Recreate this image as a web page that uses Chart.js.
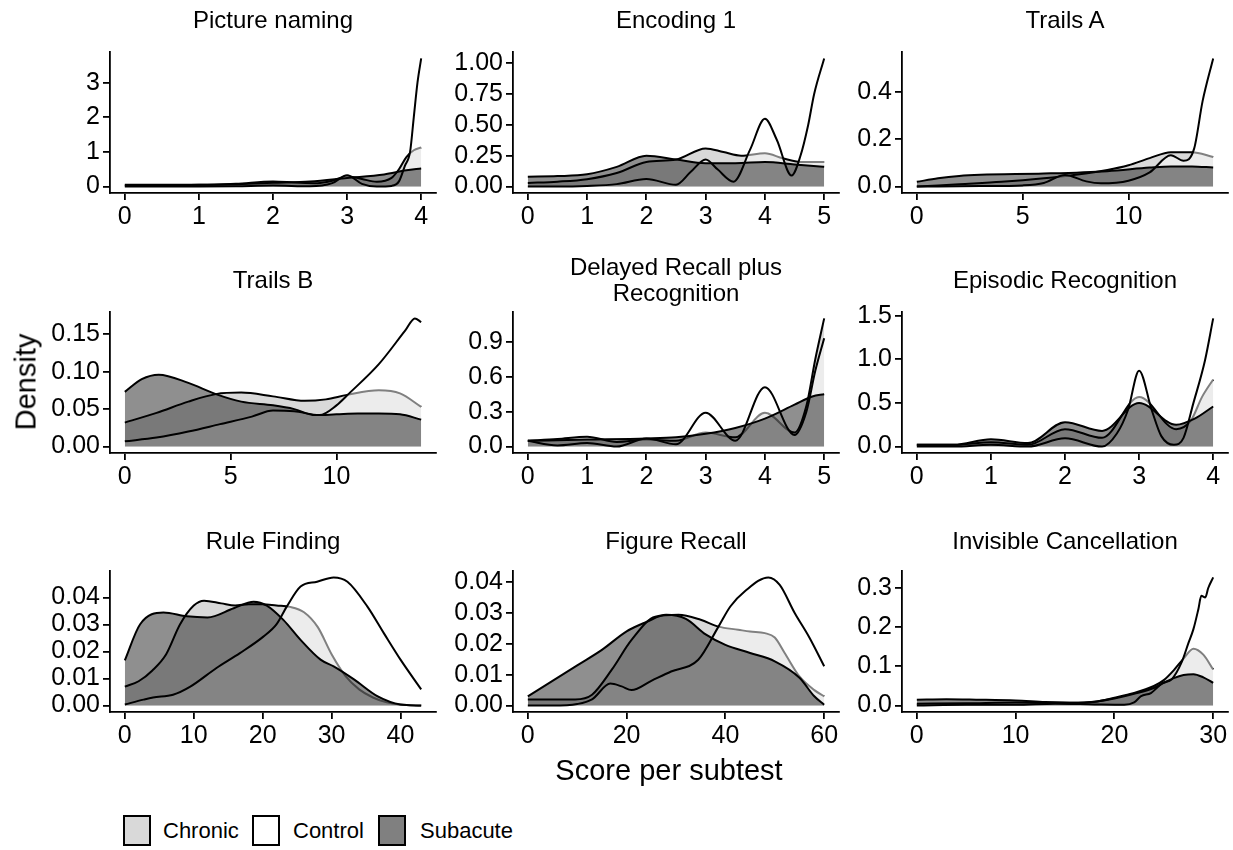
<!DOCTYPE html>
<html>
<head>
<meta charset="utf-8">
<script src="https://cdn.jsdelivr.net/npm/chart.js@4.4.1/dist/chart.umd.min.js"></script>
<style>
body { margin:0; background:#fff; width:1233px; height:850px; position:relative; overflow:hidden;
       font-family:"Liberation Sans", Arial, sans-serif; color:#000; }
canvas { position:absolute; }
.ptitle { position:absolute; font-size:24px; text-align:center; line-height:26px; white-space:nowrap; }
.axtitle { position:absolute; font-size:29px; white-space:nowrap; }
.key { position:absolute; top:815px; width:24px; height:27px; border:2px solid #000; }
.keytext { position:absolute; top:818px; font-size:22px; line-height:26px; }
</style>
</head>
<body>
<script>
// density curves, as [score, density] pairs

// Picture naming
const namingChronic = [[0,0.03],[0.5,0.03],[1,0.05],[1.5,0.08],[2,0.15],[2.3,0.12],[2.6,0.1],[2.8,0.17],[3,0.3],[3.2,0.22],[3.4,0.14],[3.6,0.25],[3.7,0.5],[3.8,0.85],[3.9,1.05],[4,1.13]];
const namingControl = [[0,0],[0.5,0],[1,0],[1.5,0.01],[2,0.03],[2.5,0.01],[2.8,0.1],[3,0.33],[3.2,0.08],[3.4,0],[3.6,0.02],[3.7,0.15],[3.78,0.6],[3.85,1.0],[3.9,2.0],[3.95,3.0],[4,3.7]];
const namingSubacute = [[0,0.05],[0.5,0.05],[1,0.05],[1.5,0.07],[2,0.11],[2.5,0.15],[3,0.25],[3.5,0.35],[3.8,0.47],[4,0.52]];

// Encoding 1
const encChronic = [[0,0.03],[0.5,0.04],[1,0.06],[1.5,0.11],[2,0.2],[2.5,0.22],[3,0.31],[3.3,0.28],[3.6,0.25],[4,0.27],[4.3,0.23],[4.6,0.2],[5,0.2]];
const encControl = [[0,0],[0.5,0],[1,0.005],[1.5,0.02],[2,0.062],[2.5,0.015],[2.75,0.12],[3,0.22],[3.2,0.14],[3.47,0.04],[3.75,0.3],[4,0.55],[4.2,0.38],[4.45,0.09],[4.6,0.25],[4.73,0.5],[4.83,0.75],[5,1.04]];
const encSubacute = [[0,0.08],[0.5,0.085],[1,0.1],[1.5,0.16],[2,0.25],[2.5,0.22],[3,0.19],[3.5,0.19],[4,0.2],[4.5,0.18],[5,0.16]];

// Trails A
const taChronic = [[0,0],[2,0.01],[4,0.02],[6,0.035],[7.5,0.05],[9,0.07],[10,0.09],[11,0.12],[12,0.145],[13,0.145],[14,0.125]];
const taControl = [[0,0],[3,0.002],[5,0.005],[6,0.015],[7,0.049],[8,0.022],[8.7,0.014],[10,0.025],[11,0.06],[12,0.132],[12.6,0.109],[13.1,0.16],[13.5,0.36],[14,0.54]];
const taSubacute = [[0,0.02],[1,0.035],[2,0.045],[3,0.05],[6,0.055],[9,0.065],[11,0.08],[12,0.085],[13,0.085],[14,0.08]];

// Trails B
const tbChronic = [[0,0.032],[1.5,0.045],[3,0.06],[4.3,0.07],[5.5,0.072],[7,0.067],[8.5,0.061],[9.5,0.063],[10.5,0.069],[12,0.075],[13,0.071],[14,0.053]];
const tbControl = [[0,0.007],[1.5,0.012],[3,0.02],[4.5,0.03],[6,0.04],[7,0.048],[8,0.047],[9.2,0.042],[10,0.055],[10.6,0.071],[12,0.11],[13.25,0.155],[13.7,0.171],[14,0.166]];
const tbSubacute = [[0,0.073],[0.8,0.09],[1.6,0.096],[3,0.085],[4.3,0.07],[5.5,0.06],[7,0.055],[8,0.05],[9,0.042],[10,0.043],[11,0.044],[12,0.044],[13,0.043],[14,0.036]];

// Delayed Recall plus Recognition
const drChronic = [[0,0.05],[0.5,0.065],[1,0.085],[1.5,0.04],[2,0.06],[2.5,0.05],[3,0.12],[3.5,0.08],[4,0.29],[4.5,0.12],[4.7,0.35],[4.85,0.75],[5,1.1]];
const drControl = [[0,0.05],[0.5,0.01],[1,0.03],[1.5,0],[2,0.07],[2.5,0.02],[3,0.29],[3.5,0.05],[4,0.51],[4.5,0.1],[4.7,0.3],[4.85,0.65],[5,0.93]];
const drSubacute = [[0,0.05],[1,0.06],[2,0.07],[2.5,0.08],[3,0.11],[3.5,0.16],[4,0.24],[4.5,0.36],[4.8,0.43],[5,0.45]];

// Episodic Recognition
const erChronic = [[0,0.02],[0.5,0.02],[1,0.05],[1.5,0.02],[2,0.2],[2.5,0.1],[3,0.57],[3.5,0.2],[3.7,0.3],[3.85,0.57],[4,0.77]];
const erControl = [[0,0],[0.5,0],[1,0.02],[1.5,0],[2,0.095],[2.5,0],[2.7,0.15],[2.85,0.42],[3,0.87],[3.17,0.42],[3.3,0.12],[3.47,0.02],[3.6,0.1],[3.73,0.49],[3.89,0.99],[4,1.47]];
const erSubacute = [[0,0.02],[0.5,0.02],[1,0.085],[1.5,0.04],[2,0.28],[2.5,0.18],[3,0.5],[3.5,0.25],[3.75,0.32],[4,0.46]];

// Rule Finding
const rfChronic = [[0,0.007],[2,0.009],[4,0.013],[6,0.019],[8,0.03],[10,0.037],[11.5,0.0388],[14,0.0378],[16,0.037],[18,0.0375],[20,0.0375],[22,0.037],[24,0.0365],[26,0.0345],[28,0.029],[30,0.019],[32,0.011],[34,0.006],[36,0.003],[38,0.0012],[40,0.0004],[43,0]];
const rfControl = [[0,0.0004],[2.7,0.0022],[4.1,0.003],[7,0.004],[9.5,0.007],[13.3,0.0139],[16.7,0.0194],[20.1,0.0255],[22,0.03],[23.5,0.0366],[25.5,0.044],[27.9,0.0458],[30.3,0.0474],[32.3,0.0458],[35.2,0.0366],[37.6,0.0267],[40,0.017],[43,0.006]];
const rfSubacute = [[0,0.0167],[2.2,0.03],[5.6,0.0344],[9,0.033],[12,0.0326],[15.8,0.036],[18.7,0.0384],[20.6,0.037],[23,0.0317],[25.5,0.0243],[28.4,0.017],[30.3,0.0145],[33.3,0.0096],[36.7,0.0034],[40,0.0004],[43,0]];

// Figure Recall
const frChronic = [[0,0.002],[5,0.002],[9.6,0.002],[13,0.0035],[17,0.0116],[21,0.0212],[25.8,0.0287],[30.5,0.0293],[35,0.0277],[38.6,0.0255],[42.6,0.0245],[45,0.0239],[48,0.0234],[50,0.022],[52,0.017],[55,0.0094],[58,0.005],[60,0.003]];
const frControl = [[0,0],[5,0],[10,0.0005],[13,0.002],[16.7,0.0071],[19,0.0062],[21,0.005],[25,0.008],[29,0.011],[34.5,0.0148],[38.6,0.0255],[41,0.032],[44,0.037],[48.7,0.0414],[51,0.039],[54,0.03],[57,0.022],[60,0.0127]];
const frSubacute = [[0,0.003],[5,0.008],[10,0.013],[15,0.018],[20,0.024],[24,0.027],[28,0.0293],[32,0.028],[36,0.023],[40,0.0196],[45,0.017],[50,0.0143],[55,0.009],[58,0.003],[60,0.0003]];

// Invisible Cancellation
const icChronic = [[0,0.005],[5,0.006],[10,0.008],[14,0.007],[18,0.01],[20,0.02],[22,0.032],[24,0.05],[25,0.065],[26,0.09],[27,0.12],[28,0.145],[29,0.13],[30,0.092]];
const icControl = [[0,0],[5,0.002],[10,0.002],[14,0.005],[18,0.003],[21,0.002],[22,0.008],[22.7,0.024],[23.7,0.032],[24.9,0.058],[25.8,0.067],[26.8,0.11],[27.5,0.16],[28,0.195],[28.5,0.246],[28.8,0.28],[29.2,0.276],[29.5,0.3],[30,0.327]];
const icSubacute = [[0,0.015],[3,0.016],[6,0.015],[10,0.013],[13,0.009],[16,0.007],[18,0.01],[20,0.018],[22,0.03],[24,0.045],[25,0.058],[26,0.07],[27,0.078],[28,0.08],[29,0.072],[30,0.058]];

const panelTitles = ['Picture naming', 'Encoding 1', 'Trails A', 'Trails B', 'Delayed Recall plus<br>Recognition',
                     'Episodic Recognition', 'Rule Finding', 'Figure Recall', 'Invisible Cancellation'];
const groups = ['Chronic', 'Control', 'Subacute'];
const chronicCurves = [namingChronic, encChronic, taChronic, tbChronic, drChronic, erChronic, rfChronic, frChronic, icChronic];
const controlCurves = [namingControl, encControl, taControl, tbControl, drControl, erControl, rfControl, frControl, icControl];
const subacuteCurves = [namingSubacute, encSubacute, taSubacute, tbSubacute, drSubacute, erSubacute, rfSubacute, frSubacute, icSubacute];
const yTicks = [[0,1,2,3], [0,0.25,0.5,0.75,1], [0,0.2,0.4], [0,0.05,0.1,0.15], [0,0.3,0.6,0.9],
                [0,0.5,1,1.5], [0,0.01,0.02,0.03,0.04], [0,0.01,0.02,0.03,0.04], [0,0.1,0.2,0.3]];
const yDecimals = [0, 2, 1, 2, 1, 1, 2, 2, 1];
const xTicks = [[0,1,2,3,4], [0,1,2,3,4,5], [0,5,10], [0,5,10], [0,1,2,3,4,5],
                [0,1,2,3,4], [0,10,20,30,40], [0,20,40,60], [0,10,20,30]];

// layout of the 3x3 grid (plot area of each panel)
const colLeft = [110, 513, 902];
const rowTop = [52, 312, 571];
const titleMid = [20, 280, 541];
const plotW = 326, plotH = 141;
const padL = 90, padT = 20, padR = 12, padB = 40;

const fills = ['rgba(179,179,179,0.5)', 'rgba(255,255,255,0.5)', 'rgba(0,0,0,0.44)'];
const FONT = '"Liberation Sans", Arial, sans-serif';

function addText(cls, html, css) {
    const d = document.createElement('div');
    d.className = cls;
    d.innerHTML = html;
    Object.assign(d.style, css);
    document.body.appendChild(d);
    return d;
}

for (let i = 0; i < 9; i++) {
    const col = i % 3, row = Math.floor(i / 3);
    const L = colLeft[col], T = rowTop[row];
    const curves = [chronicCurves[i], controlCurves[i], subacuteCurves[i]];

    const xMax = Math.max(...curves.map(c => c[c.length - 1][0]));
    const yMax = Math.max(...curves.map(c => Math.max(...c.map(p => p[1]))));

    const cv = document.createElement('canvas');
    cv.width = padL + plotW + padR;
    cv.height = padT + plotH + padB;
    cv.style.left = (L - padL) + 'px';
    cv.style.top = (T - padT) + 'px';
    document.body.appendChild(cv);

    // strip title
    const two = panelTitles[i].includes('<br>');
    addText('ptitle', panelTitles[i], {
        left: L + 'px', width: plotW + 'px',
        top: (two ? titleMid[row] - 26 : titleMid[row] - 13) + 'px'
    });

    new Chart(cv.getContext('2d'), {
        type: 'line',
        data: {
            datasets: curves.map((c, k) => ({
                label: groups[k],
                data: c.map(p => ({ x: p[0], y: p[1] })),
                fill: 'origin',
                backgroundColor: fills[k],
                borderColor: '#000',
                borderWidth: 2,
                pointRadius: 0,
                cubicInterpolationMode: 'monotone',
                order: 3 - k   // chronic at the bottom, subacute on top
            }))
        },
        options: {
            responsive: false,
            animation: false,
            layout: { padding: { top: padT, right: padR, left: 0, bottom: 0 } },
            plugins: { legend: { display: false }, tooltip: { enabled: false } },
            scales: {
                x: {
                    type: 'linear',
                    min: -0.05 * xMax, max: 1.05 * xMax,
                    afterBuildTicks: s => { s.ticks = xTicks[i].map(v => ({ value: v })); },
                    afterFit: s => { s.height = padB; },
                    grid: { display: true, drawOnChartArea: false, drawTicks: true, tickLength: 7, color: '#000', lineWidth: 1.8 },
                    border: { display: true, color: '#000', width: 1.8 },
                    ticks: { color: '#000', font: { family: FONT, size: 25 }, padding: 2, maxRotation: 0,
                             callback: v => String(v) }
                },
                y: {
                    min: -0.05 * yMax, max: 1.05 * yMax,
                    afterBuildTicks: s => { s.ticks = yTicks[i].map(v => ({ value: v })); },
                    afterFit: s => { s.width = padL; },
                    grid: { display: true, drawOnChartArea: false, drawTicks: true, tickLength: 7, color: '#000', lineWidth: 1.8 },
                    border: { display: true, color: '#000', width: 1.8 },
                    ticks: { color: '#000', font: { family: FONT, size: 25 }, padding: 3,
                             callback: v => Number(v).toFixed(yDecimals[i]) }
                }
            }
        }
    });
}

// axis titles
addText('axtitle', 'Density', { left: '26px', top: '382px', transform: 'translate(-50%,-50%) rotate(-90deg)' });
addText('axtitle', 'Score per subtest', { left: '669px', top: '770px', transform: 'translate(-50%,-50%)' });

// legend
const keyLeft = [123, 252, 378];
const keyTextLeft = [163, 293, 420];
const keyFill = ['#d9d9d9', '#ffffff', '#808080'];
groups.forEach((g, k) => {
    addText('key', '', { left: keyLeft[k] + 'px', background: keyFill[k] });
    addText('keytext', g, { left: keyTextLeft[k] + 'px' });
});
</script>
</body>
</html>
